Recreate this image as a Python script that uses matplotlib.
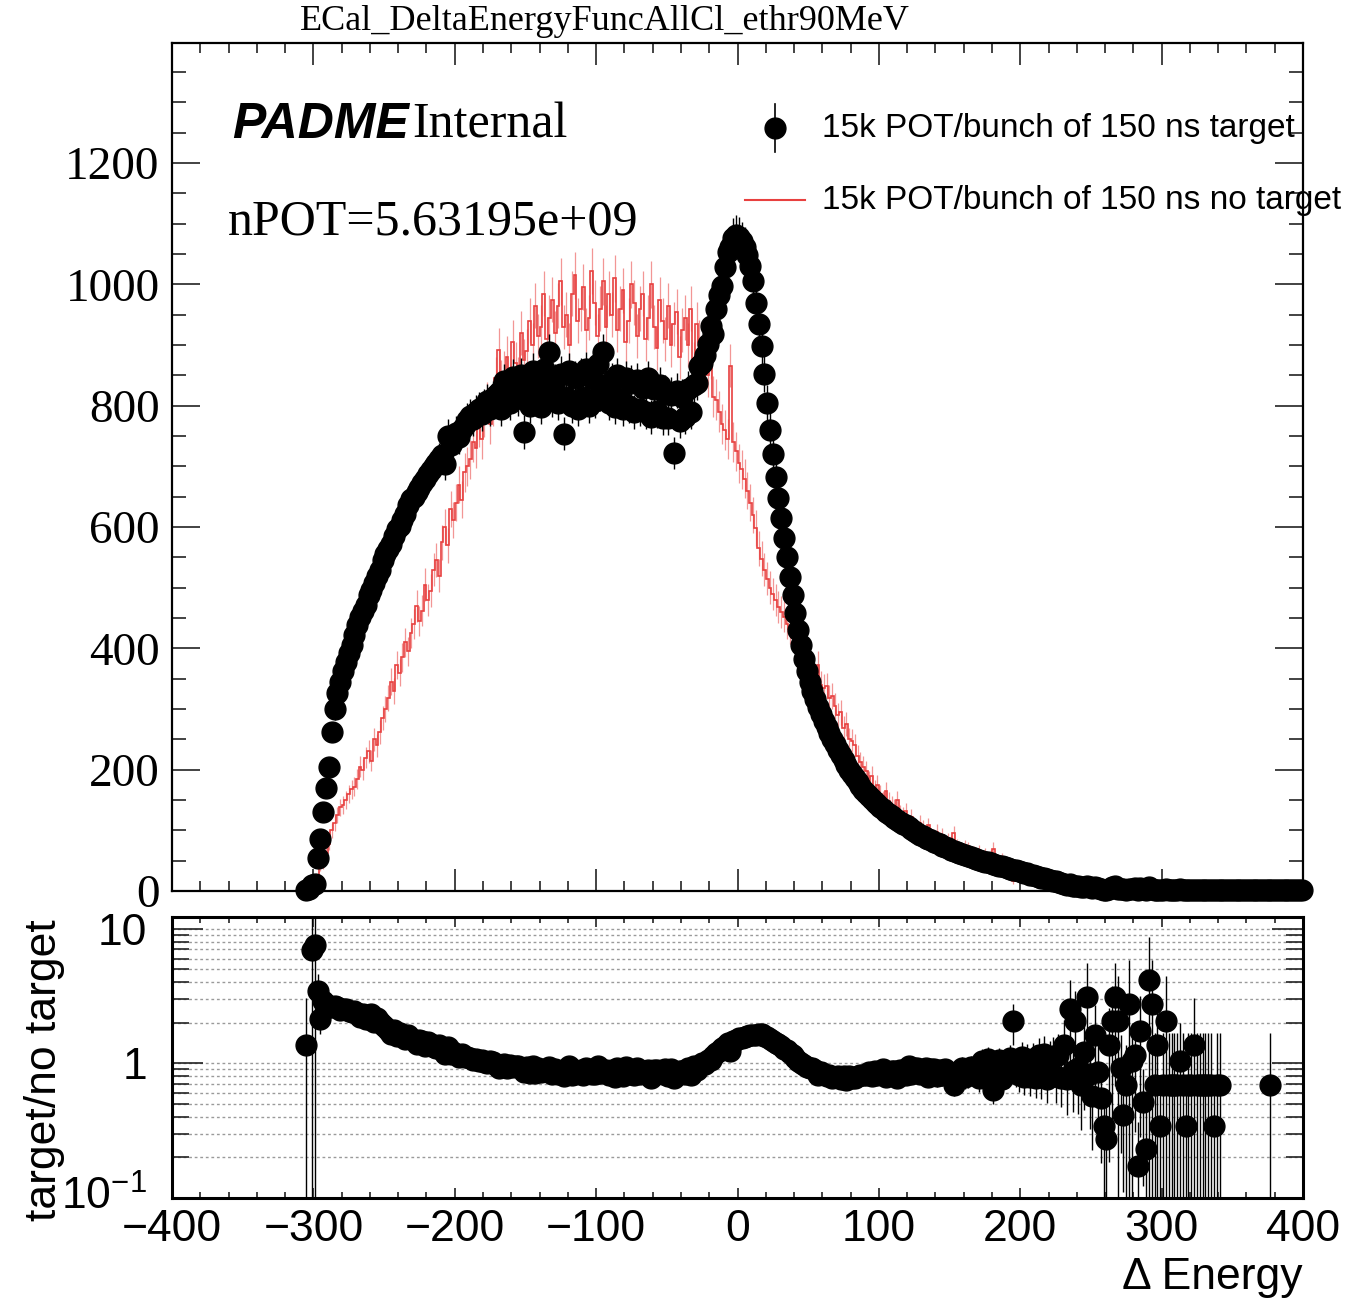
import numpy as np
import matplotlib
matplotlib.use('Agg')
import matplotlib.pyplot as plt
from matplotlib.lines import Line2D
from matplotlib.ticker import MultipleLocator, FixedLocator, NullFormatter
import matplotlib.transforms as mtransforms

plt.rcParams['mathtext.fontset'] = 'custom'
plt.rcParams['mathtext.rm'] = 'Liberation Sans'
plt.rcParams['font.family'] = 'Liberation Sans'

# histogram binning (MeV), 2 MeV bins starting at -310
x_range = (-400, 400)
bin_lo = -310
bin_w = 2
notarget_w = 1.45   # weight of one no-target event after POT normalisation

# target (black points), counts per bin, centres -309, -307, ...
n_target = [
    0, 0, 2, 3, 10, 11, 55, 85, 130, 170,
    205, 262, 300, 327, 345, 362, 378, 392, 405, 422,
    438, 452, 462, 472, 488, 497, 508, 520, 530, 545,
    556, 563, 572, 585, 596, 602, 612, 622, 636, 646,
    650, 658, 664, 672, 680, 688, 694, 700, 706, 712,
    718, 704, 750, 735, 742, 755, 748, 762, 768, 776,
    783, 778, 790, 795, 786, 800, 808, 795, 812, 818,
    822, 795, 840, 818, 805, 848, 828, 812, 850, 757,
    835, 800, 858, 815, 842, 798, 860, 825, 889, 810,
    840, 805, 852, 754, 815, 858, 800, 845, 795, 850,
    815, 860, 800, 845, 808, 868, 820, 889, 830, 805,
    842, 798, 850, 812, 795, 845, 800, 838, 790, 842,
    795, 830, 790, 845, 782, 828, 792, 835, 780, 822,
    780, 818, 722, 825, 775, 815, 782, 828, 790, 835,
    838, 866, 870, 884, 902, 932, 918, 960, 982, 998,
    1028, 1054, 1062, 1076, 1082, 1078, 1071, 1062, 1048, 1030,
    1005, 970, 935, 898, 852, 805, 760, 720, 682, 648,
    615, 582, 550, 518, 488, 458, 430, 405, 382, 362,
    345, 330, 316, 303, 292, 281, 271, 261, 251, 242,
    233, 224, 216, 208, 200, 193, 186, 179, 173, 167,
    162, 157, 152, 147, 143, 139, 135, 131, 127, 124,
    120, 117, 114, 111, 108, 105, 102, 99, 96, 93,
    91, 88, 86, 84, 81, 79, 77, 75, 73, 71,
    68, 66, 64, 62, 61, 59, 57, 56, 54, 53,
    51, 50, 48, 47, 46, 44, 43, 42, 41, 39,
    38, 37, 35, 34, 33, 31, 30, 29, 27, 26,
    25, 23, 22, 21, 19, 18, 17, 16, 15, 14,
    11, 10, 11, 9, 9, 8, 7, 7, 9, 6,
    5, 7, 5, 4, 2, 2, 4, 6, 9, 3,
    4, 3, 2, 4, 3, 5, 1, 5, 3, 1,
    6, 4, 1, 2, 1, 1, 3, 1, 1, 1,
    1, 3, 1, 1, 1, 1, 2, 1, 1, 1,
    1, 1, 1, 1, 1, 1, 1, 1, 1, 1,
    1, 1, 1, 1, 1, 1, 1, 1, 1, 1,
    1, 1, 1, 1, 1, 1, 1, 1, 1, 1,
    1, 1, 1, 1, 1,
]

# no target (red histogram), POT-normalised content per bin
n_notarget = [
    0, 0, 1.45, 0, 1.45, 1.45, 16, 40, 45, 62,
    78, 100, 112, 125, 138, 142, 150, 160, 168, 172,
    185, 205, 200, 220, 230, 215, 250, 240, 262, 285,
    300, 318, 345, 330, 372, 360, 385, 410, 395, 425,
    440, 470, 445, 462, 505, 480, 495, 530, 545, 520,
    575, 600, 570, 630, 612, 640, 670, 645, 690, 700,
    712, 740, 730, 765, 745, 782, 805, 770, 800, 845,
    892, 840, 855, 880, 830, 905, 870, 845, 920, 875,
    890, 940, 900, 965, 915, 930, 985, 910, 945, 975,
    920, 965, 1005, 930, 950, 900, 985, 1015, 940, 960,
    995, 925, 945, 1022, 970, 915, 960, 1005, 930, 985,
    950, 1010, 925, 960, 990, 905, 940, 1000, 970, 915,
    960, 985, 910, 945, 1000, 930, 895, 975, 940, 910,
    965, 900, 935, 955, 880, 925, 945, 900, 960, 870,
    935, 905, 870, 895, 850, 880, 815, 810, 790, 770,
    760, 745, 866, 740, 725, 705, 695, 680, 660, 640,
    620, 598, 565, 548, 530, 515, 500, 490, 480, 468,
    460, 452, 440, 432, 425, 418, 410, 400, 392, 385,
    372, 360, 352, 372, 340, 335, 338, 318, 322, 305,
    290, 295, 268, 275, 250, 248, 240, 222, 212, 205,
    198, 182, 190, 168, 175, 160, 150, 165, 148, 142,
    138, 150, 128, 125, 132, 110, 122, 108, 104, 112,
    104, 96, 108, 92, 90, 98, 86, 92, 80, 84,
    80, 95, 76, 72, 66, 74, 70, 60, 64, 58,
    66, 48, 62, 44, 60, 70, 52, 40, 54, 44,
    44, 34, 17, 38, 40, 28, 38, 27, 34, 24,
    32, 20, 28, 18, 25, 17, 15, 20, 13, 18,
    8, 13, 4.35, 10.2, 4.35, 8.7, 10.15, 5.8, 2.9, 7.25,
    8.7, 4.35, 5.8, 7.25, 5.8, 7.25, 2.9, 2.9, 2.9, 1.45,
    4.35, 7.25, 2.9, 1.45, 2.9, 4.35, 5.8, 2.9, 5.8, 4.35,
    1.45, 1.45, 1.45, 1.45, 2.9, 1.45, 1.45, 1.45, 1.45, 1.45,
    1.45, 2.9, 1.45, 2.9, 1.45, 1.45, 1.45, 1.45, 1.45, 1.45,
    1.45, 1.45, 1.45, 2.9, 1.45, 1.45, 0, 0, 0, 0,
    0, 0, 0, 0, 0, 0, 0, 0, 0, 0,
    0, 0, 0, 1.45, 0, 0, 0, 0, 0, 0,
    0, 0, 0, 0, 0,
]

title = 'ECal_DeltaEnergyFuncAllCl_ethr90MeV'
label_target = '15k POT/bunch of 150 ns target'
label_notarget = '15k POT/bunch of 150 ns no target'
npot_text = 'nPOT=5.63195e+09'

b = np.array(n_target, dtype=float)
r = np.array(n_notarget, dtype=float)
centres = bin_lo + bin_w * (np.arange(len(b)) + 0.5)

# red histogram covers the full axis, empty bins below bin_lo
n_empty = (bin_lo - x_range[0]) // bin_w
r_full = np.concatenate([np.zeros(n_empty), r])
edges_full = x_range[0] + bin_w * np.arange(len(r_full) + 1)
centres_full = edges_full[:-1] + bin_w / 2

W, H = 1350, 1302
fig = plt.figure(figsize=(W / 100, H / 100), dpi=100)


def fx(px):
    return px / W


def fy(py):
    return 1 - py / H


ax = fig.add_axes([fx(172), fy(891), fx(1303) - fx(172), fy(43) - fy(891)])
ax2 = fig.add_axes([fx(172), fy(1198), fx(1303) - fx(172), fy(917) - fy(1198)])

red = '#e8403f'
msize = 15

# upper panel
ax.stairs(r_full, edges_full, color=red, lw=1.2, zorder=2)
ax.errorbar(centres_full, r_full, yerr=np.sqrt(notarget_w * r_full), fmt='none',
            ecolor=red, elinewidth=0.9, alpha=0.55, zorder=2)
m = b > 0
ax.errorbar(centres[m], b[m], yerr=np.sqrt(b[m]), fmt='o', color='black', ms=msize,
            ecolor='black', elinewidth=1.0, zorder=3, clip_on=False)

ax.set_xlim(*x_range)
ax.set_ylim(0, 1398)
ax.xaxis.set_major_locator(MultipleLocator(100))
ax.xaxis.set_minor_locator(MultipleLocator(20))
ax.yaxis.set_major_locator(MultipleLocator(200))
ax.yaxis.set_minor_locator(MultipleLocator(50))
ax.tick_params(which='both', direction='in', top=True, right=True, labelbottom=False,
               width=1.2, color='#222222')
ax.tick_params(axis='x', which='major', length=16)
ax.tick_params(axis='x', which='minor', length=7)
ax.tick_params(axis='y', which='major', length=20, pad=9)
ax.tick_params(axis='y', which='minor', length=10)
for lab in ax.get_yticklabels():
    lab.set_fontfamily('Liberation Serif')
    lab.set_fontsize(34)
for s in ax.spines.values():
    s.set_linewidth(1.6)

# lower panel: ratio
mr = (b > 0) & (r > 0)
ratio = b[mr] / r[mr]
ratio_err = ratio * np.sqrt(1 / b[mr] + notarget_w / r[mr])
ax2.errorbar(centres[mr], ratio, yerr=ratio_err, fmt='o', color='black', ms=msize,
             ecolor='black', elinewidth=1.0, zorder=3)
ax2.set_yscale('log')
ax2.set_xlim(*x_range)
ax2.set_ylim(0.1, 12.2)
ax2.yaxis.set_major_locator(FixedLocator([0.1, 1, 10]))
ax2.set_yticklabels(['$10^{\u22121}$', '1', '10'])
minors = [k * d for d in (0.1, 1) for k in range(2, 10)]
ax2.yaxis.set_minor_locator(FixedLocator(minors))
ax2.yaxis.set_minor_formatter(NullFormatter())
ax2.xaxis.set_major_locator(MultipleLocator(100))
ax2.xaxis.set_minor_locator(MultipleLocator(20))
ax2.grid(True, which='both', axis='y', linestyle=(0, (2, 2)), color='#9a9a9a', lw=1.0)
ax2.tick_params(which='both', direction='in', top=True, right=True, labelsize=32,
                width=1.2, color='#222222')
ax2.tick_params(axis='x', which='major', length=7, pad=8)
ax2.tick_params(axis='x', which='minor', length=4)
ax2.tick_params(axis='y', which='major', length=22, pad=18)
ax2.tick_params(axis='y', which='minor', length=12)
for s in ax2.spines.values():
    s.set_linewidth(2.2)
# lift the 10^-1 label a little off the -400 label
low_lab = ax2.get_yticklabels()[0]
low_lab.set_transform(low_lab.get_transform() +
                      mtransforms.ScaledTranslation(0, 5 / 100, fig.dpi_scale_trans))

# texts
fig.text(fx(605), fy(22), title, family='Liberation Serif', fontsize=26,
         ha='center', va='center')
fig.text(fx(232), fy(125), 'PADME', family='Liberation Sans', fontsize=36,
         weight='bold', style='italic', ha='left', va='center')
fig.text(fx(412), fy(125), 'Internal', family='Liberation Serif', fontsize=36,
         ha='left', va='center')
fig.text(fx(228), fy(222), npot_text, family='Liberation Serif', fontsize=36,
         ha='left', va='center')
fig.text(fx(45), fy(1070), 'target/no target', fontsize=32, rotation=90,
         ha='center', va='center')
fig.text(fx(1303), fy(1278), '\u0394 Energy', fontsize=32, ha='right', va='center')

# legend
fig.add_artist(Line2D([fx(775), fx(775)], [fy(104), fy(152)], color='black', lw=1.2))
fig.add_artist(Line2D([fx(775)], [fy(128)], marker='o', color='black', ms=msize))
fig.add_artist(Line2D([fx(745), fx(805)], [fy(200), fy(200)], color=red, lw=1.5))
fig.text(fx(822), fy(128), label_target, fontsize=24, ha='left', va='center')
fig.text(fx(822), fy(200), label_notarget, fontsize=24, ha='left', va='center')

fig.savefig('out.png', dpi=100)
